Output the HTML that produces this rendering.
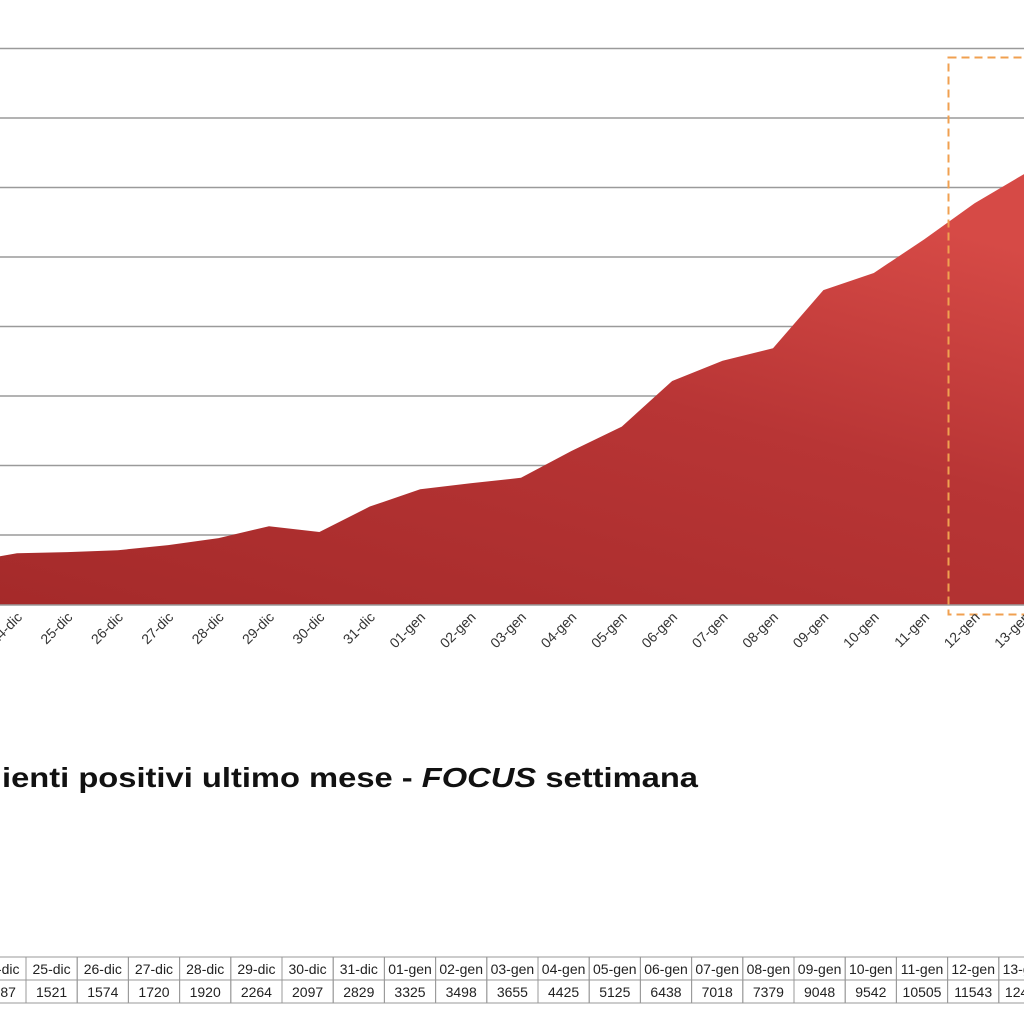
<!DOCTYPE html>
<html><head><style>
body{margin:0;background:#fff;width:1024px;height:1024px;overflow:hidden;position:relative;font-family:"Liberation Sans",sans-serif}
</style></head><body>
<svg width="1024" height="1024" style="position:absolute;left:0;top:0">
<defs>
<linearGradient id="g" x1="0" y1="1" x2="0.6" y2="0">
<stop offset="0" stop-color="#a52a2a"/><stop offset="0.6" stop-color="#b83535"/><stop offset="1" stop-color="#d64a46"/>
</linearGradient>
</defs>
<g stroke="#9a9a9a" stroke-width="1.5">
<line x1="0" x2="1024" y1="48.5" y2="48.5"/>
<line x1="0" x2="1024" y1="118" y2="118"/>
<line x1="0" x2="1024" y1="187.5" y2="187.5"/>
<line x1="0" x2="1024" y1="257" y2="257"/>
<line x1="0" x2="1024" y1="326.5" y2="326.5"/>
<line x1="0" x2="1024" y1="396" y2="396"/>
<line x1="0" x2="1024" y1="465.5" y2="465.5"/>
<line x1="0" x2="1024" y1="535" y2="535"/>
</g>
<polygon id="area" fill="url(#g)" points=""/>
<line x1="0" x2="1024" y1="605" y2="605" stroke="#9a9a9a" stroke-width="1.5"/>
<rect x="948.5" y="57.5" width="100" height="557" fill="none" stroke="#f0a050" stroke-width="2" stroke-dasharray="8,5"/>
<g id="lbl" font-size="14" fill="#333"></g>
<text x="2" y="787" font-size="28" font-weight="bold" fill="#111" textLength="696" lengthAdjust="spacingAndGlyphs">ienti positivi ultimo mese - <tspan font-style="italic">FOCUS</tspan> settimana</text>
<g id="tbl" font-size="14" fill="#222" text-anchor="middle"></g>
</svg>
<script>
var names=["24-dic","25-dic","26-dic","27-dic","28-dic","29-dic","30-dic","31-dic","01-gen","02-gen","03-gen","04-gen","05-gen","06-gen","07-gen","08-gen","09-gen","10-gen","11-gen","12-gen","13-gen"];
var vals=[1487,1521,1574,1720,1920,2264,2097,2829,3325,3498,3655,4425,5125,6438,7018,7379,9048,9542,10505,11543,12400];
var pts=["0,605","0,"+(605-1400*0.0348)];
for(var i=0;i<vals.length;i++){pts.push((17+50.4*i)+","+(605-vals[i]*0.0348));}
pts.push("1050,"+(605-13200*0.0348));pts.push("1050,605");
document.getElementById("area").setAttribute("points",pts.join(" "));
var ns="http://www.w3.org/2000/svg",lbl=document.getElementById("lbl"),tbl=document.getElementById("tbl");
for(var i=0;i<names.length;i++){var x=17+50.4*i+6,y=618;var t=document.createElementNS(ns,"text");t.setAttribute("x",x);t.setAttribute("y",y);t.setAttribute("text-anchor","end");t.setAttribute("transform","rotate(-45 "+x+" "+y+")");t.textContent=names[i];lbl.appendChild(t);}
for(var i=-1;i<=20;i++){var l=26+51.2*(i-1);
 var r=document.createElementNS(ns,"rect");r.setAttribute("x",l);r.setAttribute("y",957);r.setAttribute("width",51.2);r.setAttribute("height",23);r.setAttribute("fill","none");r.setAttribute("stroke","#999");tbl.appendChild(r);
 r=r.cloneNode();r.setAttribute("y",980);tbl.appendChild(r);
 if(i>=0){var t=document.createElementNS(ns,"text");t.setAttribute("x",l+25.6);t.setAttribute("y",974);t.textContent=names[i];tbl.appendChild(t);
 t=document.createElementNS(ns,"text");t.setAttribute("x",l+25.6);t.setAttribute("y",997);t.textContent=vals[i];tbl.appendChild(t);}}
</script>
</body></html>
